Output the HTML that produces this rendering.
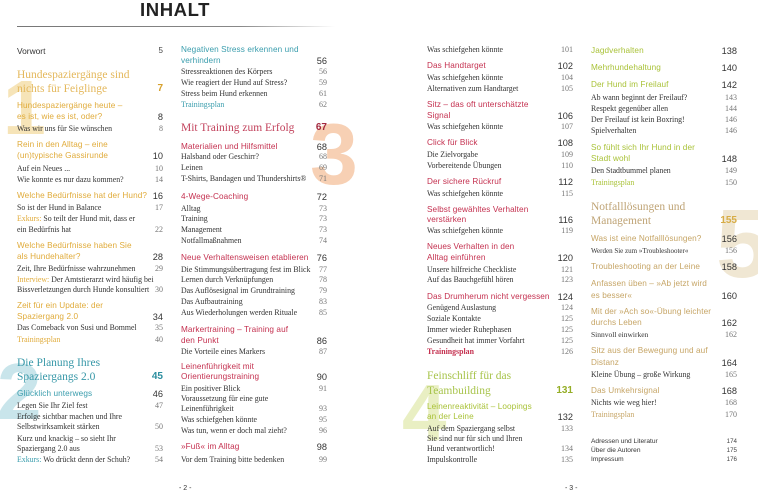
<!DOCTYPE html>
<html><head><meta charset="utf-8">
<style>
html,body{margin:0;padding:0;background:#fff;}
body{width:758px;height:492px;position:relative;overflow:hidden;}
.big{position:absolute;font-family:"Liberation Sans",sans-serif;font-weight:bold;line-height:1;z-index:0;}
.l{position:absolute;white-space:nowrap;height:12px;line-height:12px;z-index:1;}
.c1{left:17px;width:146px;}
.c2{left:181px;width:146px;}
.c3{left:427px;width:146px;}
.c4{left:591px;width:146px;}
.n{position:absolute;right:0;top:0;font-style:normal;}
.b{font-family:"Liberation Serif",serif;font-size:7.85px;color:#333;}
.b .n{color:#777;font-family:"Liberation Serif",serif;font-size:8px;}
.h{font-family:"Liberation Sans",sans-serif;font-size:8.2px;letter-spacing:.1px;}
.h .n{color:#333;font-size:9.2px;letter-spacing:0;}
.t{font-family:"Liberation Serif",serif;font-size:11.5px;}
.t .n{font-family:"Liberation Sans",sans-serif;font-weight:bold;font-size:10px;}
.s{font-family:"Liberation Sans",sans-serif;font-size:8.4px;color:#333;}
.s .n{font-size:8px;color:#444;}
.x{font-family:"Liberation Sans",sans-serif;font-size:6.6px;color:#333;}
.x .n{font-size:6.2px;color:#444;}
.g{color:#e0ab3a;} .tg{color:#e4b85c;} .ng{color:#d6a02c !important;}
.tl{color:#3a9dad;} .ttl{color:#3898a8;} .ntl{color:#2b8e9f !important;}
.cr{color:#c4304f;} .tcr{color:#c2425c;} .ncr{color:#a3283e !important;}
.lm{color:#a9c238;} .tlm{color:#a8c44c;} .nlm{color:#95ae27 !important;}
.bg{color:#c6a566;} .tbg{color:#bfa476;} .nbg{color:#d7ac45 !important;}
.bold{font-weight:bold;}
.title{position:absolute;left:140px;top:1px;font-family:"Liberation Sans",sans-serif;font-weight:bold;font-size:18.5px;line-height:1;letter-spacing:.6px;color:#222;}
.rule{position:absolute;left:17px;top:26px;width:318px;height:1px;background:linear-gradient(to right,#777 0%,#888 70%,rgba(200,200,200,0) 100%);}
.folio{position:absolute;top:484px;font-family:"Liberation Sans",sans-serif;font-size:7px;color:#333;line-height:10px;}
</style></head><body>

<div class="big" style="left:3px;top:70px;font-size:77px;color:#f6e4b8;">1</div>
<div class="big" style="left:-3px;top:352px;font-size:80px;color:#c9e5eb;">2</div>
<div class="big" style="left:310px;top:112px;font-size:86px;color:#f7d0b4;">3</div>
<div class="big" style="left:402px;top:373px;font-size:80px;color:#e9efc3;">4</div>
<div class="big" style="left:716px;top:195px;font-size:97px;color:#f0e7d3;">5</div>

<div class="title">INHALT</div>
<div class="rule"></div>

<!-- Column 1 -->
<div class="l c1 s" style="top:45px">Vorwort<i class="n">5</i></div>
<div class="l c1 t tg" style="top:69px">Hundespaziergänge sind</div>
<div class="l c1 t tg" style="top:83px">nichts für Feiglinge<i class="n ng">7</i></div>
<div class="l c1 h g" style="top:100px">Hundespaziergänge heute –</div>
<div class="l c1 h g" style="top:111px">es ist, wie es ist, oder?<i class="n">8</i></div>
<div class="l c1 b" style="top:123px">Was wir uns für Sie wünschen<i class="n">8</i></div>
<div class="l c1 h g" style="top:139px">Rein in den Alltag – eine</div>
<div class="l c1 h g" style="top:150px">(un)typische Gassirunde<i class="n">10</i></div>
<div class="l c1 b" style="top:163px">Auf ein Neues ...<i class="n">10</i></div>
<div class="l c1 b" style="top:174px">Wie konnte es nur dazu kommen?<i class="n">14</i></div>
<div class="l c1 h g" style="top:190px">Welche Bedürfnisse hat der Hund?<i class="n">16</i></div>
<div class="l c1 b" style="top:202px">So ist der Hund in Balance<i class="n">17</i></div>
<div class="l c1 b" style="top:213px"><span class="g">Exkurs:</span> So teilt der Hund mit, dass er</div>
<div class="l c1 b" style="top:224px">ein Bedürfnis hat<i class="n">22</i></div>
<div class="l c1 h g" style="top:240px">Welche Bedürfnisse haben Sie</div>
<div class="l c1 h g" style="top:251px">als Hundehalter?<i class="n">28</i></div>
<div class="l c1 b" style="top:263px">Zeit, Ihre Bedürfnisse wahrzunehmen<i class="n">29</i></div>
<div class="l c1 b" style="top:274px"><span class="g">Interview:</span> Der Amtstierarzt wird häufig bei</div>
<div class="l c1 b" style="top:284px">Bissverletzungen durch Hunde konsultiert<i class="n">30</i></div>
<div class="l c1 h g" style="top:300px">Zeit für ein Update: der</div>
<div class="l c1 h g" style="top:311px">Spaziergang 2.0<i class="n">34</i></div>
<div class="l c1 b" style="top:322px">Das Comeback von Susi und Bommel<i class="n">35</i></div>
<div class="l c1 b g" style="top:334px">Trainingsplan<i class="n">40</i></div>
<div class="l c1 t ttl" style="top:357px">Die Planung Ihres</div>
<div class="l c1 t ttl" style="top:371px">Spaziergangs 2.0<i class="n ntl">45</i></div>
<div class="l c1 h tl" style="top:388px">Glücklich unterwegs<i class="n">46</i></div>
<div class="l c1 b" style="top:400px">Legen Sie Ihr Ziel fest<i class="n">47</i></div>
<div class="l c1 b" style="top:411px">Erfolge sichtbar machen und Ihre</div>
<div class="l c1 b" style="top:421px">Selbstwirksamkeit stärken<i class="n">50</i></div>
<div class="l c1 b" style="top:433px">Kurz und knackig – so sieht Ihr</div>
<div class="l c1 b" style="top:443px">Spaziergang 2.0 aus<i class="n">53</i></div>
<div class="l c1 b" style="top:454px"><span class="tl">Exkurs:</span> Wo drückt denn der Schuh?<i class="n">54</i></div>

<!-- Column 2 -->
<div class="l c2 h tl" style="top:44px">Negativen Stress erkennen und</div>
<div class="l c2 h tl" style="top:55px">verhindern<i class="n">56</i></div>
<div class="l c2 b" style="top:66px">Stressreaktionen des Körpers<i class="n">56</i></div>
<div class="l c2 b" style="top:77px">Wie reagiert der Hund auf Stress?<i class="n">59</i></div>
<div class="l c2 b" style="top:88px">Stress beim Hund erkennen<i class="n">61</i></div>
<div class="l c2 b tl" style="top:99px">Trainingsplan<i class="n">62</i></div>
<div class="l c2 t tcr" style="top:122px">Mit Training zum Erfolg<i class="n ncr">67</i></div>
<div class="l c2 h cr" style="top:141px">Materialien und Hilfsmittel<i class="n">68</i></div>
<div class="l c2 b" style="top:151px">Halsband oder Geschirr?<i class="n">68</i></div>
<div class="l c2 b" style="top:162px">Leinen<i class="n">69</i></div>
<div class="l c2 b" style="top:173px">T-Shirts, Bandagen und Thundershirts®<i class="n">71</i></div>
<div class="l c2 h cr" style="top:191px">4-Wege-Coaching<i class="n">72</i></div>
<div class="l c2 b" style="top:203px">Alltag<i class="n">73</i></div>
<div class="l c2 b" style="top:213px">Training<i class="n">73</i></div>
<div class="l c2 b" style="top:224px">Management<i class="n">73</i></div>
<div class="l c2 b" style="top:235px">Notfallmaßnahmen<i class="n">74</i></div>
<div class="l c2 h cr" style="top:252px">Neue Verhaltensweisen etablieren<i class="n">76</i></div>
<div class="l c2 b" style="top:264px">Die Stimmungsübertragung fest im Blick<i class="n">77</i></div>
<div class="l c2 b" style="top:274px">Lernen durch Verknüpfungen<i class="n">78</i></div>
<div class="l c2 b" style="top:285px">Das Auflösesignal im Grundtraining<i class="n">79</i></div>
<div class="l c2 b" style="top:296px">Das Aufbautraining<i class="n">83</i></div>
<div class="l c2 b" style="top:307px">Aus Wiederholungen werden Rituale<i class="n">85</i></div>
<div class="l c2 h cr" style="top:324px">Markertraining – Training auf</div>
<div class="l c2 h cr" style="top:335px">den Punkt<i class="n">86</i></div>
<div class="l c2 b" style="top:346px">Die Vorteile eines Markers<i class="n">87</i></div>
<div class="l c2 h cr" style="top:361px">Leinenführigkeit mit</div>
<div class="l c2 h cr" style="top:371px">Orientierungstraining<i class="n">90</i></div>
<div class="l c2 b" style="top:383px">Ein positiver Blick<i class="n">91</i></div>
<div class="l c2 b" style="top:393px">Voraussetzung für eine gute</div>
<div class="l c2 b" style="top:403px">Leinenführigkeit<i class="n">93</i></div>
<div class="l c2 b" style="top:414px">Was schiefgehen könnte<i class="n">95</i></div>
<div class="l c2 b" style="top:425px">Was tun, wenn er doch mal zieht?<i class="n">96</i></div>
<div class="l c2 h cr" style="top:441px">»Fuß« im Alltag<i class="n">98</i></div>
<div class="l c2 b" style="top:454px">Vor dem Training bitte bedenken<i class="n">99</i></div>

<!-- Column 3 -->
<div class="l c3 b" style="top:44px">Was schiefgehen könnte<i class="n">101</i></div>
<div class="l c3 h cr" style="top:60px">Das Handtarget<i class="n">102</i></div>
<div class="l c3 b" style="top:72px">Was schiefgehen könnte<i class="n">104</i></div>
<div class="l c3 b" style="top:83px">Alternativen zum Handtarget<i class="n">105</i></div>
<div class="l c3 h cr" style="top:99px">Sitz – das oft unterschätzte</div>
<div class="l c3 h cr" style="top:110px">Signal<i class="n">106</i></div>
<div class="l c3 b" style="top:121px">Was schiefgehen könnte<i class="n">107</i></div>
<div class="l c3 h cr" style="top:137px">Click für Blick<i class="n">108</i></div>
<div class="l c3 b" style="top:149px">Die Zielvorgabe<i class="n">109</i></div>
<div class="l c3 b" style="top:160px">Vorbereitende Übungen<i class="n">110</i></div>
<div class="l c3 h cr" style="top:176px">Der sichere Rückruf<i class="n">112</i></div>
<div class="l c3 b" style="top:188px">Was schiefgehen könnte<i class="n">115</i></div>
<div class="l c3 h cr" style="top:204px">Selbst gewähltes Verhalten</div>
<div class="l c3 h cr" style="top:214px">verstärken<i class="n">116</i></div>
<div class="l c3 b" style="top:225px">Was schiefgehen könnte<i class="n">119</i></div>
<div class="l c3 h cr" style="top:241px">Neues Verhalten in den</div>
<div class="l c3 h cr" style="top:252px">Alltag einführen<i class="n">120</i></div>
<div class="l c3 b" style="top:264px">Unsere hilfreiche Checkliste<i class="n">121</i></div>
<div class="l c3 b" style="top:274px">Auf das Bauchgefühl hören<i class="n">123</i></div>
<div class="l c3 h cr" style="top:291px">Das Drumherum nicht vergessen<i class="n">124</i></div>
<div class="l c3 b" style="top:302px">Genügend Auslastung<i class="n">124</i></div>
<div class="l c3 b" style="top:313px">Soziale Kontakte<i class="n">125</i></div>
<div class="l c3 b" style="top:324px">Immer wieder Ruhephasen<i class="n">125</i></div>
<div class="l c3 b" style="top:335px">Gesundheit hat immer Vorfahrt<i class="n">125</i></div>
<div class="l c3 b cr bold" style="top:346px">Trainingsplan<i class="n" style="font-weight:normal">126</i></div>
<div class="l c3 t tlm" style="top:370px">Feinschliff für das</div>
<div class="l c3 t tlm" style="top:385px">Teambuilding<i class="n nlm">131</i></div>
<div class="l c3 h lm" style="top:401px">Leinenreaktivität – Loopings</div>
<div class="l c3 h lm" style="top:411px">an der Leine<i class="n">132</i></div>
<div class="l c3 b" style="top:423px">Auf dem Spaziergang selbst<i class="n">133</i></div>
<div class="l c3 b" style="top:433px">Sie sind nur für sich und Ihren</div>
<div class="l c3 b" style="top:443px">Hund verantwortlich!<i class="n">134</i></div>
<div class="l c3 b" style="top:454px">Impulskontrolle<i class="n">135</i></div>

<!-- Column 4 -->
<div class="l c4 h lm" style="top:45px">Jagdverhalten<i class="n">138</i></div>
<div class="l c4 h lm" style="top:62px">Mehrhundehaltung<i class="n">140</i></div>
<div class="l c4 h lm" style="top:79px">Der Hund im Freilauf<i class="n">142</i></div>
<div class="l c4 b" style="top:92px">Ab wann beginnt der Freilauf?<i class="n">143</i></div>
<div class="l c4 b" style="top:103px">Respekt gegenüber allen<i class="n">144</i></div>
<div class="l c4 b" style="top:114px">Der Freilauf ist kein Boxring!<i class="n">146</i></div>
<div class="l c4 b" style="top:125px">Spielverhalten<i class="n">146</i></div>
<div class="l c4 h lm" style="top:142px">So fühlt sich Ihr Hund in der</div>
<div class="l c4 h lm" style="top:153px">Stadt wohl<i class="n">148</i></div>
<div class="l c4 b" style="top:165px">Den Stadtbummel planen<i class="n">149</i></div>
<div class="l c4 b lm" style="top:177px">Trainingsplan<i class="n">150</i></div>
<div class="l c4 t tbg" style="top:201px">Notfalllösungen und</div>
<div class="l c4 t tbg" style="top:215px">Management<i class="n nbg">155</i></div>
<div class="l c4 h bg" style="top:233px">Was ist eine Notfalllösungen?<i class="n">156</i></div>
<div class="l c4 b" style="top:245px;font-size:7px">Werden Sie zum »Troubleshooter«<i class="n">156</i></div>
<div class="l c4 h bg" style="top:261px">Troubleshooting an der Leine<i class="n">158</i></div>
<div class="l c4 h bg" style="top:278px">Anfassen üben – »Ab jetzt wird</div>
<div class="l c4 h bg" style="top:290px">es besser«<i class="n">160</i></div>
<div class="l c4 h bg" style="top:306px">Mit der »Ach so«-Übung leichter</div>
<div class="l c4 h bg" style="top:317px">durchs Leben<i class="n">162</i></div>
<div class="l c4 b" style="top:329px;font-size:7.5px">Sinnvoll einwirken<i class="n">162</i></div>
<div class="l c4 h bg" style="top:345px">Sitz aus der Bewegung und auf</div>
<div class="l c4 h bg" style="top:357px">Distanz<i class="n">164</i></div>
<div class="l c4 b" style="top:369px">Kleine Übung – große Wirkung<i class="n">165</i></div>
<div class="l c4 h bg" style="top:385px">Das Umkehrsignal<i class="n">168</i></div>
<div class="l c4 b" style="top:397px">Nichts wie weg hier!<i class="n">168</i></div>
<div class="l c4 b bg" style="top:409px">Trainingsplan<i class="n">170</i></div>
<div class="l c4 x" style="top:436px">Adressen und Literatur<i class="n">174</i></div>
<div class="l c4 x" style="top:445px">Über die Autoren<i class="n">175</i></div>
<div class="l c4 x" style="top:454px">Impressum<i class="n">176</i></div>

<div class="folio" style="left:179px">- 2 -</div>
<div class="folio" style="left:565px">- 3 -</div>

</body></html>
